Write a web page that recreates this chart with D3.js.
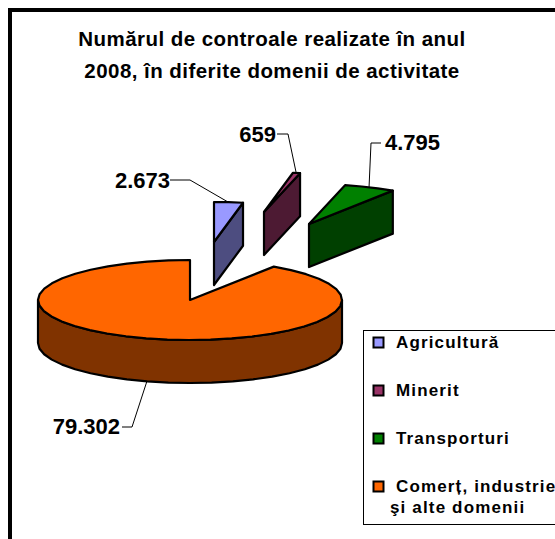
<!DOCTYPE html>
<html><head><meta charset="utf-8">
<script src="https://cdn.jsdelivr.net/npm/d3@7"></script>
<style>html,body{margin:0;padding:0;background:#fff;overflow:hidden}svg{display:block}text{font-family:"Liberation Sans",Arial,sans-serif;font-weight:bold;fill:#000}</style>
</head><body><svg width="555" height="539"></svg>
<script>
const titleLines = ["Numărul de controale realizate în anul", "2008, în diferite domenii de activitate"];
const categories = ["Agricultură", "Minerit", "Transporturi", "Comerț, industrie"];
const legendExtra = "şi alte domenii";
const values = [2673, 659, 4795, 79302];
const valueLabels = ["2.673", "659", "4.795", "79.302"];
const topColors = ["#9999ff", "#993366", "#008000", "#ff6600"];
const sideColors = ["#4d4d80", "#4d1a33", "#004000", "#803300"];
const explode = [[24,-58],[74,-88],[119,-76],[0,0]];

const svg = d3.select("svg");
const cx = 190, cy = 300, rx = 152, ry = 40, depth = 43;
const px = d3.scaleLinear().domain([-1,1]).range([cx-rx, cx+rx]);
const py = d3.scaleLinear().domain([-1,1]).range([cy-ry, cy+ry]);
const line = d3.line();
const arcs = d3.pie().sort(null).startAngle(0).endAngle(2*Math.PI)(values);
const pt = (a,off,d=0)=>[px(Math.sin(a))+off[0], py(-Math.cos(a))+off[1]+d];
const samples = (a0,a1)=>{const n=Math.max(1,Math.ceil((a1-a0)/(Math.PI/22)));return d3.range(n+1).map(i=>a0+(a1-a0)*i/n);};

// frame
svg.append("path").attr("d","M10 539V10H555").attr("fill","none").attr("stroke","#000").attr("stroke-width",4);

// title
titleLines.forEach((t,i)=>svg.append("text").attr("x",272).attr("y",46+i*32).attr("text-anchor","middle").attr("font-size",20.5).attr("letter-spacing",0.45).text(t));

// slices
[3,2,1,0].forEach(i=>{
  const s=arcs[i], off=explode[i], apex=[cx+off[0],cy+off[1]];
  const g=svg.append("g").attr("stroke","#000").attr("stroke-width",2.2).attr("stroke-linejoin","round");
  if(i===3){
    const vis=samples(Math.PI/2,3*Math.PI/2);
    const upper=vis.map(a=>pt(a,off)), lower=vis.map(a=>pt(a,off,depth)).reverse();
    g.append("path").attr("d",line([...upper,...lower])+"Z").attr("fill",sideColors[i]);
  } else {
    const e=pt(s.endAngle,off);
    g.append("path").attr("d",line([apex,e,[e[0],e[1]+depth],[apex[0],apex[1]+depth]])+"Z").attr("fill",sideColors[i]);
  }
  const rim=samples(s.startAngle,s.endAngle).map(a=>pt(a,off));
  g.append("path").attr("d",line([apex,...rim])+"Z").attr("fill",topColors[i]);
});

// leader lines
const leaders=[[[170,180],[190,180],[228,202]],[[277,134],[288,134],[296,172]],[[381,143],[371,143],[369,188]],[[122,427],[132,427],[147,381]]];
leaders.forEach(l=>svg.append("path").attr("d",line(l)).attr("fill","none").attr("stroke","#000").attr("stroke-width",1));
const labelPos=[[170,188,"end"],[276,142,"end"],[385,150,"start"],[120,434,"end"]];
valueLabels.forEach((t,i)=>svg.append("text").attr("x",labelPos[i][0]).attr("y",labelPos[i][1]).attr("text-anchor",labelPos[i][2]).attr("font-size",22).text(t));

// legend
svg.append("rect").attr("x",363.5).attr("y",330.5).attr("width",240).attr("height",194).attr("fill","#fff").attr("stroke","#000");
const legY=[343,391,439,487];
categories.forEach((c,i)=>{
  svg.append("rect").attr("x",373.5).attr("y",legY[i]-5.5).attr("width",10).attr("height",10).attr("fill",topColors[i]).attr("stroke","#000").attr("stroke-width",2);
  svg.append("text").attr("x",396).attr("y",legY[i]+5).attr("font-size",17).attr("letter-spacing",1.15).text(c);
});
svg.append("text").attr("x",390).attr("y",513).attr("font-size",17).attr("letter-spacing",1.15).text(legendExtra);
</script></body></html>
